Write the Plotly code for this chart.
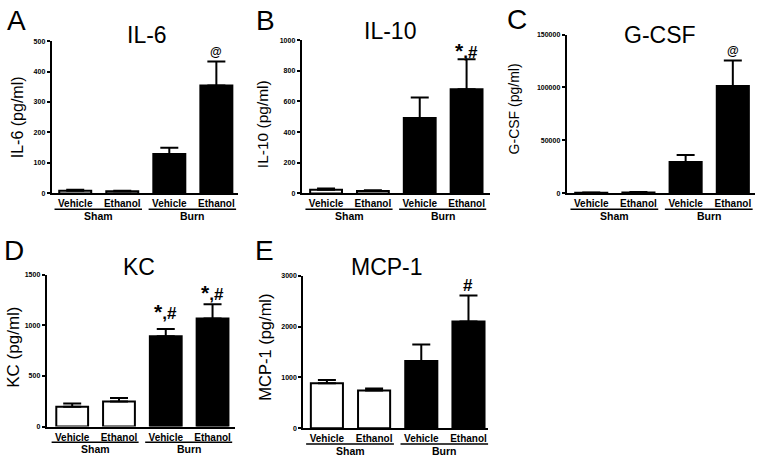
import plotly.graph_objects as go

# ---------------- data ----------------
categories = ["Vehicle", "Ethanol", "Vehicle", "Ethanol"]
groups = ["Sham", "Burn"]

il6_mean = [9, 7, 129, 354]
il6_err = [3, 2, 21, 79]

il10_mean = [24, 15, 492, 679]
il10_err = [8, 5, 133, 197]

gcsf_mean = [600, 900, 29700, 101300]
gcsf_err = [300, 500, 6600, 24200]

kc_mean = [195, 247, 893, 1068]
kc_err = [32, 35, 71, 140]

mcp1_mean = [886, 743, 1325, 2100]
mcp1_err = [64, 39, 323, 511]

titles = ["IL-6", "IL-10", "G-CSF", "KC", "MCP-1"]
ytitles = ["IL-6 (pg/ml)", "IL-10 (pg/ml)", "G-CSF (pg/ml)", "KC (pg/ml)", "MCP-1 (pg/ml)"]
letters = ["A", "B", "C", "D", "E"]
sig_marks = [["", "", "", "@"], ["", "", "", "*,#"], ["", "", "", "@"],
             ["", "", "*,#", "*,#"], ["", "", "", "#"]]
ymax = [500, 1000, 150000, 1500, 3000]
ydtick = [100, 200, 50000, 500, 1000]

means = [il6_mean, il10_mean, gcsf_mean, kc_mean, mcp1_mean]
errs = [il6_err, il10_err, gcsf_err, kc_err, mcp1_err]

# ---------------- layout geometry (pixels) ----------------
W, H = 762, 463
geo = [
    dict(x0=51.7, x1=238.0, yt=37.7, yb=192.3, xr=[-0.50, 3.46],
         tx=147, ty=31, lx=16, ly=17, yx=17, yy=115, yts=16, sigshift=[0, 0, 0, 10]),
    dict(x0=301.7, x1=490.0, yt=36.7, yb=192.3, xr=[-0.52, 3.50],
         tx=390, ty=27, lx=265, ly=17, yx=262, yy=122, yts=15.5, sigshift=[0, 0, 0, 9]),
    dict(x0=566.7, x1=755.0, yt=31.0, yb=192.3, xr=[-0.52, 3.47],
         tx=660, ty=31, lx=517, ly=16, yx=514, yy=107, yts=14, sigshift=[0, 0, 0, 9]),
    dict(x0=46.7, x1=235.0, yt=275.0, yb=429.0, xr=[-0.545, 3.48],
         tx=139, ty=267, lx=14, ly=250, yx=14, yy=349, yts=17, sigshift=[0, 0, 18, 12]),
    dict(x0=303.3, x1=488.3, yt=276.0, yb=430.7, xr=[-0.50, 3.42],
         tx=387, ty=267, lx=264, ly=250, yx=265, yy=349, yts=16.5, sigshift=[0, 0, 0, 10]),
]

FONT = "Liberation Sans, Arial, sans-serif"

def px_x(v):
    return v / W

def px_y(v):
    return 1 - v / H

def mark_text(m):
    if m == "*,#":
        return "<span style='font-size:21px'>*</span>,#"
    return m

fig = go.Figure()
layout = dict(width=W, height=H, margin=dict(l=0, r=0, t=0, b=0),
              paper_bgcolor="white", plot_bgcolor="white", showlegend=False,
              font=dict(family=FONT, color="black"))
annotations = []
shapes = []

bar_colors = ["white", "white", "black", "black"]

for i in range(5):
    g = geo[i]
    n = "" if i == 0 else str(i + 1)
    xa, ya = "x" + n, "y" + n
    fig.add_trace(go.Bar(
        x=list(range(len(categories))), y=means[i],
        xaxis=xa, yaxis=ya, width=0.68,
        marker=dict(color=bar_colors, line=dict(color="black", width=2)),
        error_y=dict(type="data", symmetric=False, array=errs[i],
                     arrayminus=[0] * len(errs[i]), color="black",
                     thickness=2, width=9),
    ))
    layout["xaxis" + n] = dict(
        domain=[px_x(g["x0"]), px_x(g["x1"])], anchor=ya, range=g["xr"],
        tickmode="array", tickvals=list(range(len(categories))), ticktext=categories,
        tickfont=dict(family=FONT, size=10, weight="bold", color="black"), ticks="", ticklen=0,
        showline=True, linecolor="black", linewidth=2, showgrid=False, zeroline=False,
        fixedrange=True,
    )
    layout["yaxis" + n] = dict(
        domain=[px_y(g["yb"]), px_y(g["yt"])], anchor=xa, range=[0, ymax[i]],
        dtick=ydtick[i], tick0=0, tickformat="d",
        tickfont=dict(family=FONT, size=7, weight="bold", color="black"),
        ticks="outside", ticklen=3, tickwidth=1.5, tickcolor="black",
        showline=True, linecolor="black", linewidth=2, showgrid=False, zeroline=False,
        fixedrange=True,
    )
    annotations.append(dict(text=titles[i], x=px_x(g["tx"]), y=px_y(g["ty"]),
                            xref="paper", yref="paper", showarrow=False,
                            xanchor="center", yanchor="middle",
                            font=dict(family=FONT, size=23)))
    annotations.append(dict(text=letters[i], x=px_x(g["lx"]), y=px_y(g["ly"]),
                            xref="paper", yref="paper", showarrow=False,
                            xanchor="center", yanchor="middle",
                            font=dict(family=FONT, size=28)))
    annotations.append(dict(text=ytitles[i], x=px_x(g["yx"]), y=px_y(g["yy"]),
                            xref="paper", yref="paper", showarrow=False, textangle=-90,
                            xanchor="center", yanchor="middle",
                            font=dict(family=FONT, size=g["yts"])))
    for gi, grp in enumerate(groups):
        c0, c1 = 2 * gi, 2 * gi + 1
        shapes.append(dict(type="line", xref=xa, yref="paper",
                           x0=c0 - 0.44, x1=c1 + 0.42,
                           y0=px_y(g["yb"] + 16), y1=px_y(g["yb"] + 16),
                           line=dict(color="black", width=1.5)))
        annotations.append(dict(text=grp, x=(c0 + c1) / 2, y=px_y(g["yb"] + 23),
                                xref=xa, yref="paper", showarrow=False,
                                xanchor="center", yanchor="middle",
                                font=dict(family=FONT, size=10.5, weight="bold")))
    for k, mark in enumerate(sig_marks[i]):
        if mark:
            size = 12 if mark == "@" else 17
            annotations.append(dict(text=mark_text(mark), x=k, y=means[i][k] + errs[i][k],
                                    xref=xa, yref=ya, showarrow=False,
                                    xanchor="center", yanchor="middle",
                                    yshift=g["sigshift"][k],
                                    font=dict(family=FONT, size=size, weight="bold")))

layout["annotations"] = annotations
layout["shapes"] = shapes
fig.update_layout(**layout)
fig.write_html("out.html", config={"responsive": False, "displayModeBar": False},
               post_script="document.body.style.margin='0';document.body.style.overflow='hidden';")
